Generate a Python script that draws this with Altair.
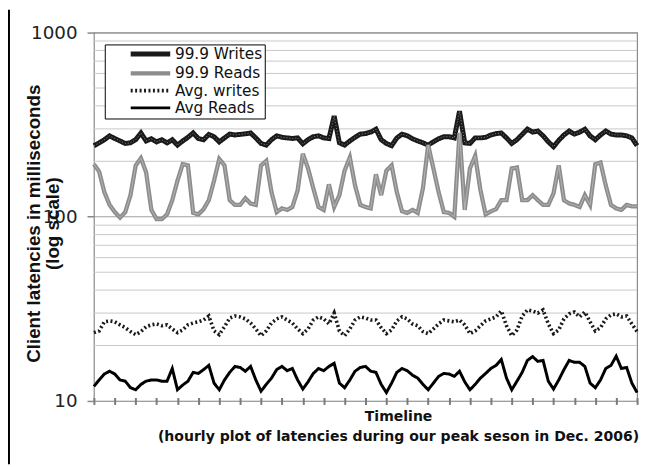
import altair as alt
import pandas as pd

# Timeline positions (hours since start), sampled every 3 hours
HOURS = list(range(0, 313, 3))
X_TICKS = list(range(0, 313, 12))
SERIES = ["99.9 Writes", "99.9 Reads", "Avg. writes", "Avg Reads"]

W999 = [243, 252, 262, 275, 266, 258, 250, 252, 262, 285,
        258, 265, 255, 262, 252, 262, 245, 258, 270, 285,
        266, 262, 280, 272, 255, 268, 281, 278, 280, 282,
        285, 268, 250, 245, 262, 275, 270, 268, 266, 268,
        249, 262, 272, 275, 268, 266, 352, 252, 245, 258,
        270, 281, 283, 288, 299, 262, 250, 243, 268, 281,
        275, 265, 258, 252, 245, 255, 265, 272, 272, 268,
        374, 252, 250, 268, 268, 270, 278, 283, 285, 268,
        250, 262, 280, 299, 288, 292, 275, 255, 240, 260,
        278, 292, 281, 288, 299, 275, 262, 278, 292, 281,
        278, 278, 275, 268, 243]

R999 = [193, 176, 136, 116, 106, 99, 106, 131, 190, 208,
        174, 109, 97, 97, 103, 123, 157, 193, 190, 105,
        103, 110, 123, 157, 206, 190, 123, 116, 116, 126,
        118, 116, 190, 201, 136, 106, 111, 109, 113, 139,
        220, 183, 143, 113, 109, 150, 113, 131, 178, 210,
        148, 116, 113, 111, 170, 131, 178, 190, 136, 107,
        105, 109, 105, 143, 245, 183, 136, 106, 105, 100,
        285, 109, 183, 214, 140, 103, 107, 110, 123, 123,
        183, 185, 123, 123, 131, 123, 116, 116, 134, 190,
        123, 118, 116, 113, 131, 116, 193, 197, 148, 116,
        111, 109, 116, 114, 114]

AVG_W = [23.5, 24.0, 26.9, 27.2, 26.9, 25.9, 25.0, 23.8, 22.9, 23.8,
         25.3, 25.9, 26.2, 25.6, 25.9, 24.6, 23.5, 24.3, 25.9, 26.5,
         26.9, 27.5, 28.9, 24.0, 22.9, 25.3, 28.2, 28.9, 28.6, 27.9,
         26.5, 24.6, 22.6, 24.0, 26.5, 27.9, 28.6, 27.5, 26.5, 24.6,
         23.2, 24.6, 27.5, 28.6, 27.9, 26.2, 30.0, 24.0, 22.6, 24.6,
         27.5, 28.6, 28.2, 27.5, 27.5, 25.0, 23.2, 24.3, 27.2, 28.6,
         27.9, 26.2, 25.6, 23.8, 23.2, 24.6, 26.2, 27.5, 27.2, 26.9,
         27.5, 25.9, 23.2, 24.0, 25.6, 27.2, 27.9, 28.6, 30.8, 25.6,
         22.6, 24.3, 28.9, 31.2, 30.8, 30.0, 31.2, 26.2, 23.2, 24.3,
         27.9, 29.7, 30.4, 28.6, 30.4, 26.9, 24.0, 25.0, 27.9, 29.3,
         29.7, 28.6, 28.9, 26.2, 23.8]

AVG_R = [12.0, 13.0, 14.0, 14.5, 14.0, 13.0, 12.8, 11.8, 11.5, 12.3,
         12.8, 13.0, 13.0, 12.8, 12.8, 15.0, 11.5, 12.2, 12.8, 14.3,
         14.1, 14.8, 15.6, 12.5, 11.5, 13.0, 14.3, 15.4, 15.2, 14.5,
         15.4, 13.0, 11.3, 12.3, 13.3, 14.8, 15.4, 14.6, 15.0, 13.0,
         11.6, 12.7, 14.1, 15.0, 14.6, 15.4, 16.0, 12.5, 11.8, 13.0,
         14.5, 15.2, 15.4, 14.5, 14.3, 12.3, 11.1, 12.5, 14.3, 15.0,
         14.6, 13.8, 13.3, 12.3, 11.5, 12.5, 13.6, 14.1, 14.0, 13.6,
         14.5, 12.7, 11.5, 12.3, 13.3, 14.1, 15.0, 15.6, 16.8, 13.3,
         11.5, 12.8, 14.3, 16.6, 17.4, 16.4, 16.6, 12.8, 11.6, 13.0,
         14.8, 16.6, 16.2, 16.2, 15.4, 12.5, 11.8, 13.0, 15.0, 15.6,
         17.5, 15.0, 15.2, 12.5, 11.1]

Y_MAJOR = [10, 100, 1000]
Y_MINOR = [20, 30, 40, 50, 60, 70, 80, 90,
           200, 300, 400, 500, 600, 700, 800, 900]

rows = []
for name, vals in zip(SERIES, [W999, R999, AVG_W, AVG_R]):
    for h, v in zip(HOURS, vals):
        rows.append({"hour": h, "latency": v, "series": name})
df = pd.DataFrame(rows)
grid_df = pd.DataFrame({"latency": Y_MINOR})

WIDE = "DejaVu Sans"
ARIAL = "Liberation Sans"

x_enc = alt.X(
    "hour:Q",
    scale=alt.Scale(domain=[0, 312], nice=False, zero=False),
    axis=alt.Axis(
        values=X_TICKS, labels=False, grid=False, domain=False, ticks=True,
        tickSize=7, tickColor="#7a7a7a", tickWidth=2, offset=-3.5,
        title=["Timeline",
               "(hourly plot of latencies during our peak seson in Dec. 2006)"],
        titleFont=WIDE, titleFontSize=14.2, titleFontWeight="bold",
        titleColor="#111111", titleLineHeight=21,
        titleX=308, titleY=12, titleBaseline="top", titleAlign="center",
    ),
)

y_enc = alt.Y(
    "latency:Q",
    scale=alt.Scale(type="log", domain=[10, 1000], nice=False),
    axis=alt.Axis(
        values=Y_MAJOR, format="d", ticks=True,
        tickSize=7, tickWidth=1.5, tickColor="#888888",
        grid=True, gridColor="#a0a0a0",
        domain=False,
        labelFont=WIDE, labelFontSize=18.5, labelColor="#222222", labelPadding=10,
        labelAlign="right", labelBaseline="middle",
        title=["Client latencies in milliseconds", "(log scale)"],
        titleFont=ARIAL, titleFontSize=19, titleFontWeight="bold",
        titleColor="#111111", titleLineHeight=19,
        titleX=-55, titleY=193, titleAngle=270,
        titleBaseline="alphabetic", titleAlign="center",
    ),
)

leg = alt.Legend(
    orient="none", legendX=11, legendY=12, title=None,
    fillColor="white", strokeColor="black", padding=2,
    symbolType="M-4,0H4", symbolSize=100, symbolOffset=36.5,
    labelFont=WIDE, labelFontSize=15.5, labelColor="#111111", labelOffset=17,
    rowPadding=0.5,
    labelExpr="datum.label + '" + "\u00a0" * 11 + "'",
)

minor_grid = alt.Chart(grid_df).mark_rule(color="#c8c8c8", strokeWidth=1).encode(
    y=y_enc
)

main = alt.Chart(df).mark_line().encode(
    x=x_enc,
    y=y_enc,
    color=alt.Color("series:N", sort=SERIES, legend=leg,
                    scale=alt.Scale(domain=SERIES,
                                    range=["#1a1a1a", "#8c8c8c", "#1a1a1a", "#000000"])),
    strokeWidth=alt.StrokeWidth("series:N", sort=SERIES, legend=leg,
                                scale=alt.Scale(domain=SERIES, range=[5, 3, 2, 4])),
    strokeDash=alt.StrokeDash("series:N", sort=SERIES, legend=leg,
                              scale=alt.Scale(domain=SERIES,
                                              range=[[1, 0], [1, 0], [2, 2.5], [1, 0]])),
)

w_tex = alt.Chart(df).transform_filter(
    alt.datum.series == "99.9 Writes"
).mark_line(color="#bbbbbb", strokeWidth=1, strokeDash=[1, 2], opacity=0.7).encode(
    x=x_enc, y=y_enc
)

r_tex = alt.Chart(df).transform_filter(
    alt.datum.series == "99.9 Reads"
).mark_line(color="#b4b4b4", strokeWidth=1).encode(
    x=x_enc, y=y_enc
)

frame = alt.Chart(pd.DataFrame({"a": [0]})).mark_rule(
    color="black", strokeWidth=2
).encode(x=alt.value(-86), y=alt.value(-23), y2=alt.value(437))

chart = alt.layer(minor_grid, main, w_tex, r_tex, frame).properties(
    width=550, height=373,
    autosize=alt.AutoSizeParams(type="none"),
    padding={"left": 87, "top": 22, "right": 7, "bottom": 64},
    background="white",
).configure_view(
    stroke="#8a8a8a", strokeWidth=1.2
)

chart.save("out.html", embed_options={"renderer": "svg", "actions": False})
